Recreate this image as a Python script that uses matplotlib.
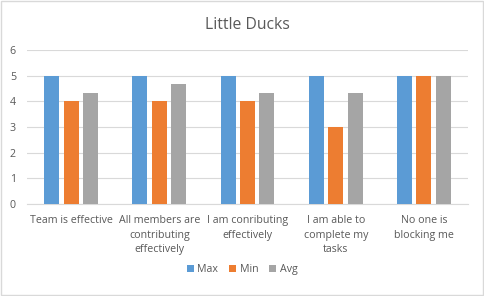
import matplotlib.pyplot as plt
import numpy as np
from matplotlib.patches import Rectangle

categories = [
    "Team is effective",
    "All members are\ncontributing\neffectively",
    "I am conributing\neffectively",
    "I am able to\ncomplete my\ntasks",
    "No one is\nblocking me",
]
max_vals = [5, 5, 5, 5, 5]
min_vals = [4, 4, 4, 3, 5]
avg_vals = [4.33, 4.67, 4.33, 4.33, 5]

series = [("Max", max_vals, "#5b9bd5"), ("Min", min_vals, "#ed7d31"), ("Avg", avg_vals, "#a5a5a5")]
text_color = "#595959"

plt.rcParams["font.family"] = ["Open Sans", "DejaVu Sans"]

fig = plt.figure(figsize=(4.84, 2.96), dpi=100)
ax = fig.add_axes([0.056, 0.311, 0.911, 0.52])

x = np.arange(len(categories))
width = 0.17
step = 0.22
for i, (name, vals, color) in enumerate(series):
    ax.bar(x + (i - 1) * step, vals, width, color=color, label=name, zorder=3)

ax.set_xlim(-0.5, len(categories) - 0.5)
ax.set_ylim(0, 6)
ax.set_yticks(range(7))
ax.set_xticks(x)
ax.set_xticklabels(categories, fontsize=7.7, color=text_color, linespacing=1.45)
ax.tick_params(axis="y", labelsize=7.7, colors=text_color, length=0, pad=8)
ax.tick_params(axis="x", length=0, pad=8)
ax.grid(axis="y", color="#d9d9d9", linewidth=0.8, zorder=0)
for side in ["top", "right", "left"]:
    ax.spines[side].set_visible(False)
ax.spines["bottom"].set_color("#d9d9d9")

ax.set_title("Little Ducks", fontsize=11.3, color=text_color, pad=15)

fig.legend(
    loc="center",
    bbox_to_anchor=(0.5, 0.088),
    ncol=3,
    frameon=False,
    fontsize=7.7,
    labelcolor=text_color,
    handlelength=0.7,
    handleheight=0.7,
    handletextpad=0.3,
    columnspacing=1.0,
)

fig.patches.append(
    Rectangle((0.002, 0.003), 0.995, 0.993, transform=fig.transFigure,
              fill=False, edgecolor="#d9d9d9", linewidth=1)
)

fig.savefig("out.png", dpi=100)
